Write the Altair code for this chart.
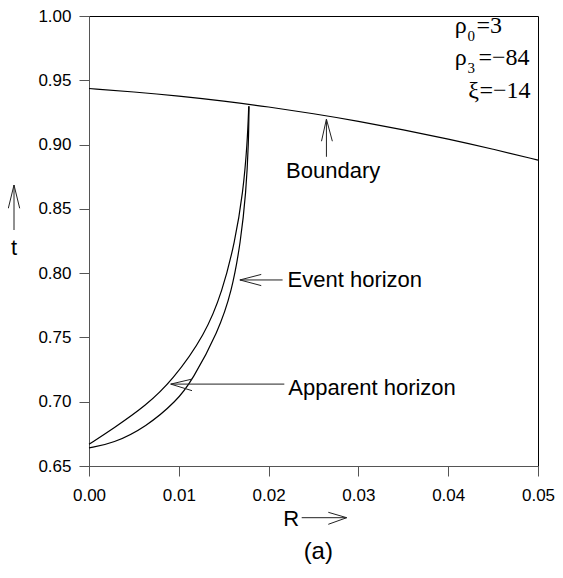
import altair as alt
import pandas as pd

# ---- data ----
R_boundary = [0.0, 0.005, 0.01, 0.015, 0.02, 0.025, 0.03, 0.035, 0.04, 0.045, 0.05]
t_boundary = [0.9436, 0.9410, 0.9378, 0.9339, 0.9293, 0.9241, 0.9182, 0.9116, 0.9044, 0.8965, 0.8879]

R_apparent = [0.0, 0.00267, 0.00635, 0.00927, 0.01295, 0.01485, 0.01625, 0.01716, 0.01763, 0.01779]
t_apparent = [0.6669, 0.6790, 0.6970, 0.7163, 0.7523, 0.7857, 0.8242, 0.8628, 0.9013, 0.9298]

R_event = [0.0, 0.00267, 0.00635, 0.00979, 0.01147, 0.01441, 0.01590, 0.01689, 0.01749, 0.01777, 0.01782]
t_event = [0.6641, 0.6675, 0.6803, 0.7008, 0.7163, 0.7548, 0.7857, 0.8242, 0.8628, 0.9013, 0.9298]

x_ticks = [0.0, 0.01, 0.02, 0.03, 0.04, 0.05]
y_ticks = [0.65, 0.70, 0.75, 0.80, 0.85, 0.90, 0.95, 1.00]

labels = ["Boundary", "Event horizon", "Apparent horizon"]
label_R = [0.02195, 0.02211, 0.02219]
label_t = [0.8738, 0.7895, 0.7055]

# arrow segments (data coordinates): stem + two arms
seg_R = [0.02644, 0.02644, 0.02644, 0.01680, 0.01680, 0.01680, 0.00910, 0.00910, 0.00910]
seg_t = [0.8905, 0.9198, 0.9198, 0.7947, 0.7947, 0.7947, 0.7137, 0.7137, 0.7137]
seg_R2 = [0.02644, 0.02589, 0.02710, 0.02156, 0.01918, 0.01918, 0.02175, 0.01147, 0.01147]
seg_t2 = [0.9198, 0.9026, 0.9026, 0.7947, 0.7990, 0.7903, 0.7137, 0.7176, 0.7086]

SANS = "Liberation Sans"
SERIF = "Liberation Serif"

rows = []
for name, Rs, ts in [("Boundary", R_boundary, t_boundary),
                     ("Apparent horizon", R_apparent, t_apparent),
                     ("Event horizon", R_event, t_event)]:
    for i, (r, t) in enumerate(zip(Rs, ts)):
        rows.append({"series": name, "R": r, "t": t, "order": i})
curves = pd.DataFrame(rows)

xscale = alt.Scale(domain=[0, 0.05], nice=False, zero=False)
yscale = alt.Scale(domain=[0.65, 1.0], nice=False, zero=False)

xaxis = alt.Axis(values=x_ticks, format=".2f", title=None, grid=False, tickSize=10,
                 labelFont=SANS, labelFontSize=17, labelColor="black", labelPadding=11,
                 domainColor="#555", tickColor="#555", labelFlush=False, labelOverlap=False)
yaxis = alt.Axis(values=y_ticks, format=".2f", title=None, grid=False, tickSize=10,
                 labelFont=SANS, labelFontSize=17, labelColor="black", labelPadding=8,
                 domainColor="#555", tickColor="#555", labelFlush=False, labelOverlap=False)

lines = alt.Chart(curves).mark_line(color="black", strokeWidth=1.2, interpolate="basis").encode(
    x=alt.X("R:Q", scale=xscale, axis=xaxis),
    y=alt.Y("t:Q", scale=yscale, axis=yaxis),
    detail="series:N",
    order="order:Q",
)

seg_df = pd.DataFrame({"R": seg_R, "t": seg_t, "R2": seg_R2, "t2": seg_t2})
arrows = alt.Chart(seg_df).mark_rule(color="#222", strokeWidth=1).encode(
    x=alt.X("R:Q", scale=xscale), y=alt.Y("t:Q", scale=yscale),
    x2="R2:Q", y2="t2:Q",
)

lab_df = pd.DataFrame({"R": label_R, "t": label_t, "label": labels})
ann = alt.Chart(lab_df).mark_text(align="left", baseline="alphabetic", font=SANS,
                                  fontSize=22, color="black").encode(
    x=alt.X("R:Q", scale=xscale), y=alt.Y("t:Q", scale=yscale), text="label:N")

one = pd.DataFrame({"a": [0]})

def seg(x1, y1, x2, y2):
    return alt.Chart(one).mark_rule(color="#222", strokeWidth=1).encode(
        x=alt.value(x1), y=alt.value(y1), x2=alt.value(x2), y2=alt.value(y2))

def txt(s, x, y, size, font=SANS, align="left"):
    return alt.Chart(one).mark_text(text=s, align=align, baseline="alphabetic",
                                    font=font, fontSize=size, color="black").encode(
        x=alt.value(x), y=alt.value(y))

outside = [
    # t axis title with up arrow
    seg(-75, 214, -75, 169), seg(-75, 169, -80.7, 192.3), seg(-75, 169, -69.3, 192.3),
    txt("t", -75, 239, 22, align="center"),
    # R axis title with right arrow
    txt("R", 194.3, 509.7, 22),
    seg(212.7, 501.7, 257.7, 501.7), seg(257.7, 501.7, 239.3, 496.3), seg(257.7, 501.7, 239.3, 508.3),
    txt("(a)", 229.3, 543, 24, align="center"),
    # parameters box
    txt("ρ", 365.7, 17.3, 24, SERIF), txt("0", 378.5, 24.7, 15, SERIF), txt("=3", 387.5, 17.3, 24, SERIF),
    txt("ρ", 365.7, 49, 24, SERIF), txt("3", 378.5, 57, 15, SERIF), txt("=−84", 389.5, 49, 24, SERIF),
    txt("ξ", 390, 82.3, 24, SERIF, align="right"), txt("=−14", 390.5, 82.3, 24, SERIF),
]

chart = alt.layer(lines, arrows, ann, *outside).properties(
    width=449, height=450,
    autosize=alt.AutoSizeParams(type="none"),
    padding={"left": 81, "top": 8, "right": 17, "bottom": 98},
).configure_view(stroke="black", strokeWidth=1)

chart.save("out.html", embed_options={"renderer": "svg", "actions": False})
